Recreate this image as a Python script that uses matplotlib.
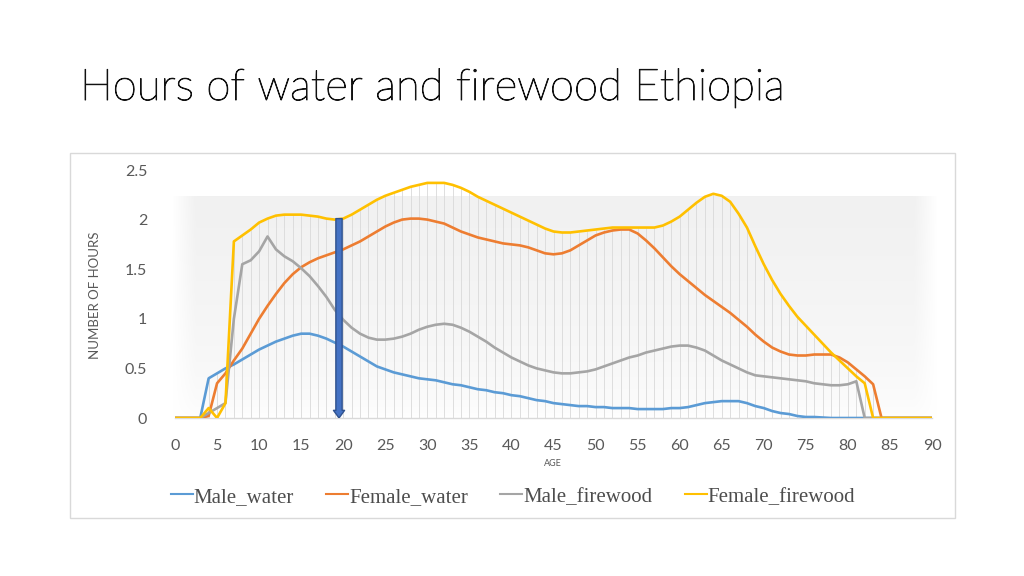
import numpy as np
import matplotlib
matplotlib.use("Agg")
import matplotlib.pyplot as plt
import matplotlib.patheffects as pe
from matplotlib.patches import Rectangle, FancyArrowPatch
from matplotlib.lines import Line2D

ages = list(range(0, 91))

male_water = [0, 0, 0, 0, 0.40, 0.45, 0.50, 0.54, 0.59, 0.64,
              0.69, 0.73, 0.77, 0.80, 0.83, 0.85, 0.85, 0.83, 0.80, 0.76,
              0.72, 0.67, 0.62, 0.57, 0.52, 0.49, 0.46, 0.44, 0.42, 0.40,
              0.39, 0.38, 0.36, 0.34, 0.33, 0.31, 0.29, 0.28, 0.26, 0.25,
              0.23, 0.22, 0.20, 0.18, 0.17, 0.15, 0.14, 0.13, 0.12, 0.12,
              0.11, 0.11, 0.10, 0.10, 0.10, 0.09, 0.09, 0.09, 0.09, 0.10,
              0.10, 0.11, 0.13, 0.15, 0.16, 0.17, 0.17, 0.17, 0.15, 0.12,
              0.10, 0.07, 0.05, 0.04, 0.02, 0.01, 0.01, 0.005, 0, 0,
              0, 0, 0, 0, 0, 0, 0, 0, 0, 0, 0]

female_water = [0, 0, 0, 0, 0.02, 0.35, 0.45, 0.58, 0.70, 0.85,
                1.00, 1.13, 1.25, 1.36, 1.45, 1.52, 1.57, 1.61, 1.64, 1.67,
                1.70, 1.74, 1.78, 1.83, 1.88, 1.93, 1.97, 2.00, 2.01, 2.01,
                2.00, 1.98, 1.96, 1.92, 1.88, 1.85, 1.82, 1.80, 1.78, 1.76,
                1.75, 1.74, 1.72, 1.69, 1.66, 1.65, 1.66, 1.69, 1.74, 1.79,
                1.84, 1.87, 1.89, 1.90, 1.90, 1.86, 1.79, 1.71, 1.62, 1.53,
                1.45, 1.38, 1.31, 1.24, 1.18, 1.12, 1.06, 0.99, 0.92, 0.84,
                0.77, 0.71, 0.67, 0.64, 0.63, 0.63, 0.64, 0.64, 0.64, 0.61,
                0.56, 0.49, 0.42, 0.34, 0, 0, 0, 0, 0, 0, 0]

male_firewood = [0, 0, 0, 0, 0.05, 0.10, 0.15, 1.00, 1.55, 1.59,
                 1.68, 1.83, 1.70, 1.63, 1.58, 1.51, 1.43, 1.33, 1.22, 1.09,
                 0.99, 0.91, 0.85, 0.81, 0.79, 0.79, 0.80, 0.82, 0.85, 0.89,
                 0.92, 0.94, 0.95, 0.94, 0.91, 0.87, 0.82, 0.77, 0.71, 0.66,
                 0.61, 0.57, 0.53, 0.50, 0.48, 0.46, 0.45, 0.45, 0.46, 0.47,
                 0.49, 0.52, 0.55, 0.58, 0.61, 0.63, 0.66, 0.68, 0.70, 0.72,
                 0.73, 0.73, 0.71, 0.68, 0.63, 0.58, 0.54, 0.50, 0.46, 0.43,
                 0.42, 0.41, 0.40, 0.39, 0.38, 0.37, 0.35, 0.34, 0.33, 0.33,
                 0.34, 0.37, 0, 0, 0, 0, 0, 0, 0, 0, 0]

female_firewood = [0, 0, 0, 0, 0.10, 0, 0.15, 1.78, 1.84, 1.90,
                   1.97, 2.01, 2.04, 2.05, 2.05, 2.05, 2.04, 2.03, 2.01, 2.00,
                   2.01, 2.05, 2.10, 2.15, 2.20, 2.24, 2.27, 2.30, 2.33, 2.35,
                   2.37, 2.37, 2.37, 2.35, 2.32, 2.28, 2.23, 2.19, 2.15, 2.11,
                   2.07, 2.03, 1.99, 1.95, 1.91, 1.88, 1.87, 1.87, 1.88, 1.89,
                   1.90, 1.91, 1.92, 1.92, 1.92, 1.92, 1.92, 1.92, 1.94, 1.98,
                   2.03, 2.10, 2.17, 2.23, 2.26, 2.24, 2.18, 2.06, 1.92, 1.73,
                   1.55, 1.39, 1.25, 1.13, 1.02, 0.93, 0.84, 0.75, 0.66, 0.58,
                   0.50, 0.42, 0.35, 0, 0, 0, 0, 0, 0, 0, 0]

series_names = ["Male_water", "Female_water", "Male_firewood", "Female_firewood"]
series_colors = ["#5B9BD5", "#ED7D31", "#A5A5A5", "#FFC000"]
x_ticks = list(range(0, 91, 5))
y_ticks = [0, 0.5, 1, 1.5, 2, 2.5]
y_tick_labels = ["0", "0.5", "1", "1.5", "2", "2.5"]
arrow_age = 19.5
arrow_top = 2.01

W, H = 1024, 576
fig = plt.figure(figsize=(W / 100, H / 100), dpi=100)
fig.patch.set_facecolor("white")

def fx(px):
    return px / W

def fy(py):
    return 1 - py / H

# chart area border
fig.patches.append(Rectangle((fx(70), fy(518)), fx(955) - fx(70), fy(153) - fy(518),
                             transform=fig.transFigure, fill=False,
                             edgecolor="#d9d9d9", linewidth=1.0, zorder=0))

ax = fig.add_axes([fx(175), fy(418), fx(932) - fx(175), fy(170) - fy(418)])
ax.set_xlim(0, 90)
ax.set_ylim(0, 2.5)
ax.set_facecolor("none")
for s in ["top", "right", "left"]:
    ax.spines[s].set_visible(False)
ax.spines["bottom"].set_color("#d9d9d9")
ax.spines["bottom"].set_linewidth(1.0)

# gradient plot-area fill (very light)
gy = np.linspace(0.0, 1.0, 256).reshape(-1, 1)
gx = np.linspace(0.0, 1.0, 512).reshape(1, -1)
edge_fade = np.clip(np.minimum(gx, 1 - gx) / 0.03, 0, 1)
shade = 1.0 - 0.055 * np.sqrt(gy[::-1]) * edge_fade
img = np.dstack([shade, shade, shade])
ax.imshow(img, extent=[-0.4, 90.6, 0, 2.23], aspect="auto", origin="upper",
          zorder=0, clip_on=False, interpolation="bilinear")

# drop lines
all_series = [male_water, female_water, male_firewood, female_firewood]
top = np.max(np.array(all_series), axis=0)
ax.vlines(ages, 0, top, colors="#d9d9d9", linewidth=0.6, zorder=1)

for vals, c in zip(all_series, series_colors):
    ax.plot(ages, vals, color=c, linewidth=1.9, zorder=3, solid_joinstyle="round")

arrow = FancyArrowPatch((arrow_age, arrow_top), (arrow_age, 0.0),
                        arrowstyle="simple,head_length=0.55,head_width=0.8,tail_width=0.45",
                        mutation_scale=10, facecolor="#4472C4", edgecolor="#2F528F",
                        linewidth=1.0, shrinkA=0, shrinkB=0, zorder=4)
ax.add_patch(arrow)

ax.set_xticks(x_ticks)
ax.set_xticklabels([str(v) for v in x_ticks])
ax.set_yticks(y_ticks)
ax.set_yticklabels(y_tick_labels)
ax.tick_params(axis="both", length=0, labelsize=11.5, labelcolor="#595959")
ax.tick_params(axis="x", pad=15)
ax.tick_params(axis="y", pad=20)
for lab in ax.get_xticklabels() + ax.get_yticklabels():
    lab.set_fontfamily("Lato")

fig.text(fx(553), fy(464), "AGE", fontsize=6.5, color="#595959", ha="center",
         va="center", family="Lato")
fig.text(fx(95), fy(295), "NUMBER OF HOURS", fontsize=9.5, color="#595959",
         ha="center", va="center", rotation=90, family="Lato")

title = fig.text(fx(80), fy(100), "Hours of water and firewood Ethiopia", fontsize=31.5,
                 color="#111111", ha="left", va="baseline", family="Lato", weight="light")
title.set_path_effects([pe.withStroke(linewidth=0.7, foreground="#111111")])

handles = [Line2D([0], [0], color=c, linewidth=1.5) for c in series_colors]
leg = fig.legend(handles, series_names, loc="center", bbox_to_anchor=(fx(513), fy(497)),
                 ncol=4, frameon=False, handlelength=1.05, handletextpad=0.05,
                 columnspacing=1.55, prop={"family": "Liberation Serif", "size": 15})
for t in leg.get_texts():
    t.set_color("#4d4d4d")

fig.savefig("out.png", dpi=100, facecolor="white")
